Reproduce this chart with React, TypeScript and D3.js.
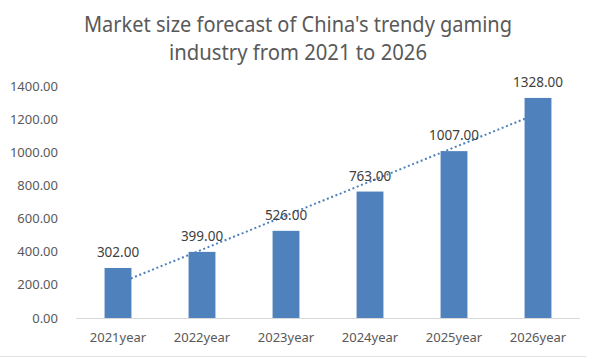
import React from "react";
import * as d3 from "d3";

const categories = ["2021year", "2022year", "2023year", "2024year", "2025year", "2026year"];
const values = [302, 399, 526, 763, 1007, 1328];
const yTicks = [0, 200, 400, 600, 800, 1000, 1200, 1400];
const titleLines = ["Market size forecast of China's trendy gaming", "industry from 2021 to 2026"];

const W = 595;
const H = 359;
const FONT = "'Noto Sans', 'Open Sans', sans-serif";
const BAR = "#4f81bd";

export default function App() {
  const x = d3.scaleBand<string>().domain(categories).range([76, 580]).paddingInner(0.68).paddingOuter(0.34);
  const y = d3.scaleLinear().domain([0, 1400]).range([318, 86]);

  // linear trendline (least squares)
  const idx = values.map((_, i) => i + 1);
  const mx = d3.mean(idx)!;
  const my = d3.mean(values)!;
  const sxy = d3.sum(idx, (v, i) => (v - mx) * (values[i] - my));
  const sxx = d3.sum(idx, (v) => (v - mx) * (v - mx));
  const slope = sxy / sxx;
  const icpt = my - slope * mx;
  const trendPts: [number, number][] = [
    [x(categories[0])! + x.bandwidth() / 2, y(icpt + slope * 1)],
    [x(categories[categories.length - 1])! + x.bandwidth() / 2, y(icpt + slope * categories.length)],
  ];
  const line = d3.line();

  const titleWidths = [428, 258];

  return (
    <svg width={W} height={H} style={{ position: "absolute", left: 0, top: 0, background: "#fff" }}>
      <rect width={W} height={H} fill="#fff" />
      {titleLines.map((t, i) => (
        <text
          key={i}
          x={298}
          y={32 + i * 28}
          textAnchor="middle"
          fontFamily={FONT}
          fontSize={21}
          fill="#595959"
          textLength={titleWidths[i]}
          lengthAdjust="spacingAndGlyphs"
        >
          {t}
        </text>
      ))}

      {yTicks.map((t) => (
        <text key={t} x={58} y={y(t) + 4.5} textAnchor="end" fontFamily={FONT} fontSize={13} fill="#595959">
          {t.toFixed(2)}
        </text>
      ))}

      <line x1={76} x2={580} y1={y(0) + 0.5} y2={y(0) + 0.5} stroke="#d9d9d9" strokeWidth={1} />

      <path d={line(trendPts)!} stroke={BAR} strokeWidth={2} strokeDasharray="2 2.6" fill="none" />

      {categories.map((c, i) => (
        <rect key={c} x={x(c)} y={y(values[i])} width={x.bandwidth()} height={y(0) - y(values[i])} fill={BAR} />
      ))}

      {categories.map((c, i) => (
        <text
          key={c}
          x={x(c)! + x.bandwidth() / 2}
          y={y(values[i]) - 11}
          textAnchor="middle"
          fontFamily={FONT}
          fontSize={13.5}
          fill="#404040"
        >
          {values[i].toFixed(2)}
        </text>
      ))}

      {categories.map((c) => (
        <text
          key={c}
          x={x(c)! + x.bandwidth() / 2}
          y={342}
          textAnchor="middle"
          fontFamily={FONT}
          fontSize={13}
          fill="#595959"
        >
          {c}
        </text>
      ))}

      <line x1={0} x2={586} y1={356.5} y2={356.5} stroke="#e3e3e3" strokeWidth={1} />
    </svg>
  );
}
